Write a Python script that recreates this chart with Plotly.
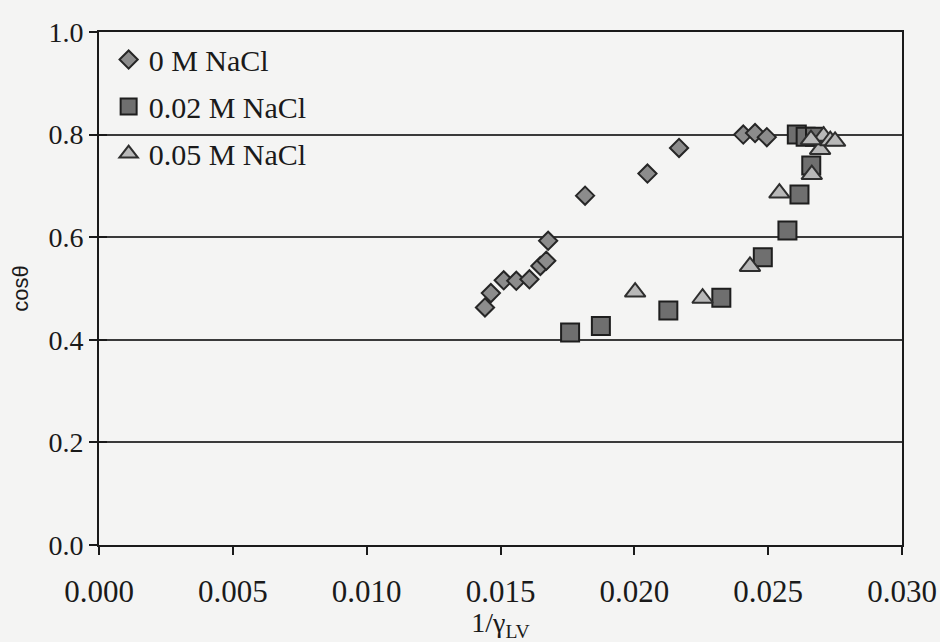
import plotly.graph_objects as go

# cos(theta) versus 1/gamma_LV for three NaCl concentrations
x_0M = [0.01442, 0.01464, 0.01512, 0.01559, 0.01608, 0.01649, 0.01671, 0.01678,
        0.01816, 0.02049, 0.02167, 0.02407, 0.02451, 0.02495]
y_0M = [0.463, 0.491, 0.516, 0.515, 0.518, 0.544, 0.554, 0.593,
        0.681, 0.724, 0.774, 0.800, 0.803, 0.795]

x_002M = [0.01760, 0.01875, 0.02127, 0.02325, 0.02480, 0.02572, 0.02617,
          0.02661, 0.02607, 0.02640, 0.02675]
y_002M = [0.414, 0.427, 0.457, 0.482, 0.561, 0.613, 0.683,
          0.740, 0.800, 0.796, 0.796]

x_005M = [0.02003, 0.02255, 0.02432, 0.02542, 0.02663, 0.02694, 0.02707,
          0.02732, 0.02750, 0.02660]
y_005M = [0.493, 0.481, 0.543, 0.686, 0.722, 0.771, 0.797,
          0.788, 0.787, 0.790]

names = ["0 M NaCl", "0.02 M NaCl", "0.05 M NaCl"]

x_ticks = [0.000, 0.005, 0.010, 0.015, 0.020, 0.025, 0.030]
y_ticks = [0.0, 0.2, 0.4, 0.6, 0.8, 1.0]

serif = "Liberation Serif, Times New Roman, serif"
bg = "#f4f4f3"

fig = go.Figure()

fig.add_trace(go.Scatter(
    x=x_0M, y=y_0M, mode="markers", name=names[0], legendgroup="a",
    marker=dict(symbol="diamond", size=14, color="#8c8c8c",
                line=dict(color="#262626", width=2)),
))
fig.add_trace(go.Scatter(
    x=x_002M, y=y_002M, mode="markers", name=names[1], legendgroup="b",
    marker=dict(symbol="square", size=18, color="#6f6f6f",
                line=dict(color="#1e1e1e", width=2)),
))
fig.add_trace(go.Scatter(
    x=x_005M, y=y_005M, mode="markers", name=names[2], legendgroup="c",
    marker=dict(symbol="triangle-up", size=18, color="#b8b8b8",
                line=dict(color="#2e2e2e", width=2)),
))
# empty trace to carry the inner half of the crossing y ticks
fig.add_trace(go.Scatter(x=[None], y=[None], yaxis="y2", showlegend=False,
                         hoverinfo="skip"))

fig.update_layout(
    width=940, height=642,
    margin=dict(l=99, r=38, t=32, b=97),
    paper_bgcolor=bg, plot_bgcolor=bg,
    font=dict(family=serif, size=28, color="#1a1a1a"),
    showlegend=True,
    legend=dict(x=0.012, y=0.997, xanchor="left", yanchor="top",
                bgcolor="rgba(0,0,0,0)", borderwidth=0,
                font=dict(family=serif, size=30, color="#1a1a1a"),
                tracegroupgap=5, traceorder="grouped"),
    xaxis=dict(
        range=[0, 0.030], tickvals=x_ticks,
        ticktext=[f"{v:.3f}" for v in x_ticks],
        showgrid=False, zeroline=False, automargin=False,
        showline=True, linecolor="#1a1a1a", linewidth=2, mirror=True,
        ticks="outside", ticklen=8, tickwidth=2, tickcolor="#1a1a1a",
        tickfont=dict(family=serif, size=31), ticklabelstandoff=10,
        title=dict(text="1/γ<sub>LV</sub>",
                   font=dict(family=serif, size=28), standoff=12),
    ),
    yaxis=dict(
        range=[0, 1.0], tickvals=y_ticks,
        ticktext=[f"{v:.1f}" for v in y_ticks],
        showgrid=True, gridcolor="#3a3a3a", gridwidth=2,
        zeroline=False, automargin=False,
        showline=True, linecolor="#1a1a1a", linewidth=2, mirror=True,
        ticks="outside", ticklen=8, tickwidth=2, tickcolor="#1a1a1a",
        tickfont=dict(family=serif, size=28),
        title=dict(text="cosθ",
                   font=dict(family="Liberation Sans, Arial, sans-serif",
                             size=22), standoff=14),
    ),
    yaxis2=dict(
        range=[0, 1.0], tickvals=y_ticks, overlaying="y", side="left",
        showticklabels=False, showgrid=False, zeroline=False,
        automargin=False,
        showline=False, ticks="inside", ticklen=8, tickwidth=2,
        tickcolor="#1a1a1a",
    ),
)

fig.write_html("out.html")
